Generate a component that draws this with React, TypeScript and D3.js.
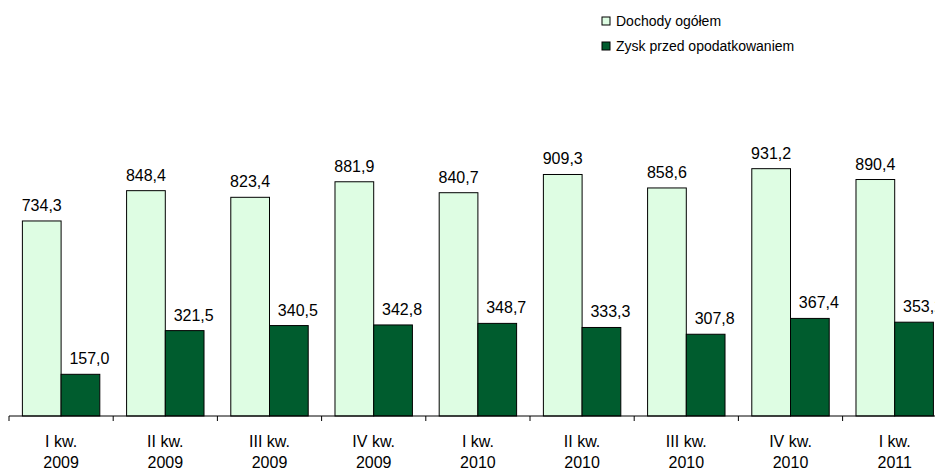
import React from "react";
import * as d3 from "d3";

const categories = [
  ["I kw.", "2009"],
  ["II kw.", "2009"],
  ["III kw.", "2009"],
  ["IV kw.", "2009"],
  ["I kw.", "2010"],
  ["II kw.", "2010"],
  ["III kw.", "2010"],
  ["IV kw.", "2010"],
  ["I kw.", "2011"],
];
const dochody = [734.3, 848.4, 823.4, 881.9, 840.7, 909.3, 858.6, 931.2, 890.4];
const zysk = [157.0, 321.5, 340.5, 342.8, 348.7, 333.3, 307.8, 367.4, 353.2];
const seriesNames = ["Dochody ogółem", "Zysk przed opodatkowaniem"];
const colors = ["#DEFDE3", "#005C2E"];

const fmt = (v: number) => v.toFixed(1).replace(".", ",");

export default function App() {
  const W = 935;
  const H = 469;
  const x0 = 9;
  const step = 104.2;
  const x = d3
    .scaleBand<number>()
    .domain(d3.range(categories.length))
    .range([x0, x0 + step * categories.length])
    .paddingInner(0.257)
    .paddingOuter(0.1285);
  const xs = d3.scaleBand<number>().domain([0, 1]).range([0, x.bandwidth()]);
  const y = d3.scaleLinear().domain([0, 1000]).range([416, 150.4]);
  const font = "'Liberation Sans', Arial, sans-serif";
  const series = [dochody, zysk];
  const fs = 16;
  const labelShift = [0, 9];

  return (
    <svg
      width={W}
      height={H}
      style={{ position: "absolute", left: 0, top: 0, background: "#fff" }}
      fontFamily={font}
    >
      {series.map((vals, si) =>
        vals.map((v, i) => {
          const bx = (x(i) as number) + (xs(si) as number);
          const bw = xs.bandwidth();
          return (
            <g key={`${si}-${i}`}>
              <rect
                x={bx}
                y={y(v)}
                width={bw}
                height={y(0) - y(v)}
                fill={colors[si]}
                stroke="#000"
                strokeWidth={1}
              />
              <text
                x={bx + bw / 2 + labelShift[si]}
                y={y(v) - 10}
                textAnchor="middle"
                fontSize={fs}
                fill="#000"
              >
                {fmt(v)}
              </text>
            </g>
          );
        })
      )}
      <line x1={x0} x2={W} y1={y(0)} y2={y(0)} stroke="#000" strokeWidth={1} />
      {d3.range(categories.length + 1).map((i) => (
        <line
          key={i}
          x1={x0 + i * step}
          x2={x0 + i * step}
          y1={y(0)}
          y2={y(0) + 5}
          stroke="#000"
        />
      ))}
      {categories.map((c, i) => {
        const cx = (x(i) as number) + x.bandwidth() / 2;
        return (
          <text key={i} textAnchor="middle" fontSize={fs} fill="#000">
            <tspan x={cx} y={447}>
              {c[0]}
            </tspan>
            <tspan x={cx} y={467.5}>
              {c[1]}
            </tspan>
          </text>
        );
      })}
      {seriesNames.map((n, i) => (
        <g key={n}>
          <rect
            x={602}
            y={17 + i * 25}
            width={8}
            height={8}
            fill={colors[i]}
            stroke="#000"
            strokeWidth={1}
          />
          <text x={616} y={26 + i * 25} fontSize={14} fill="#000">
            {n}
          </text>
        </g>
      ))}
    </svg>
  );
}
